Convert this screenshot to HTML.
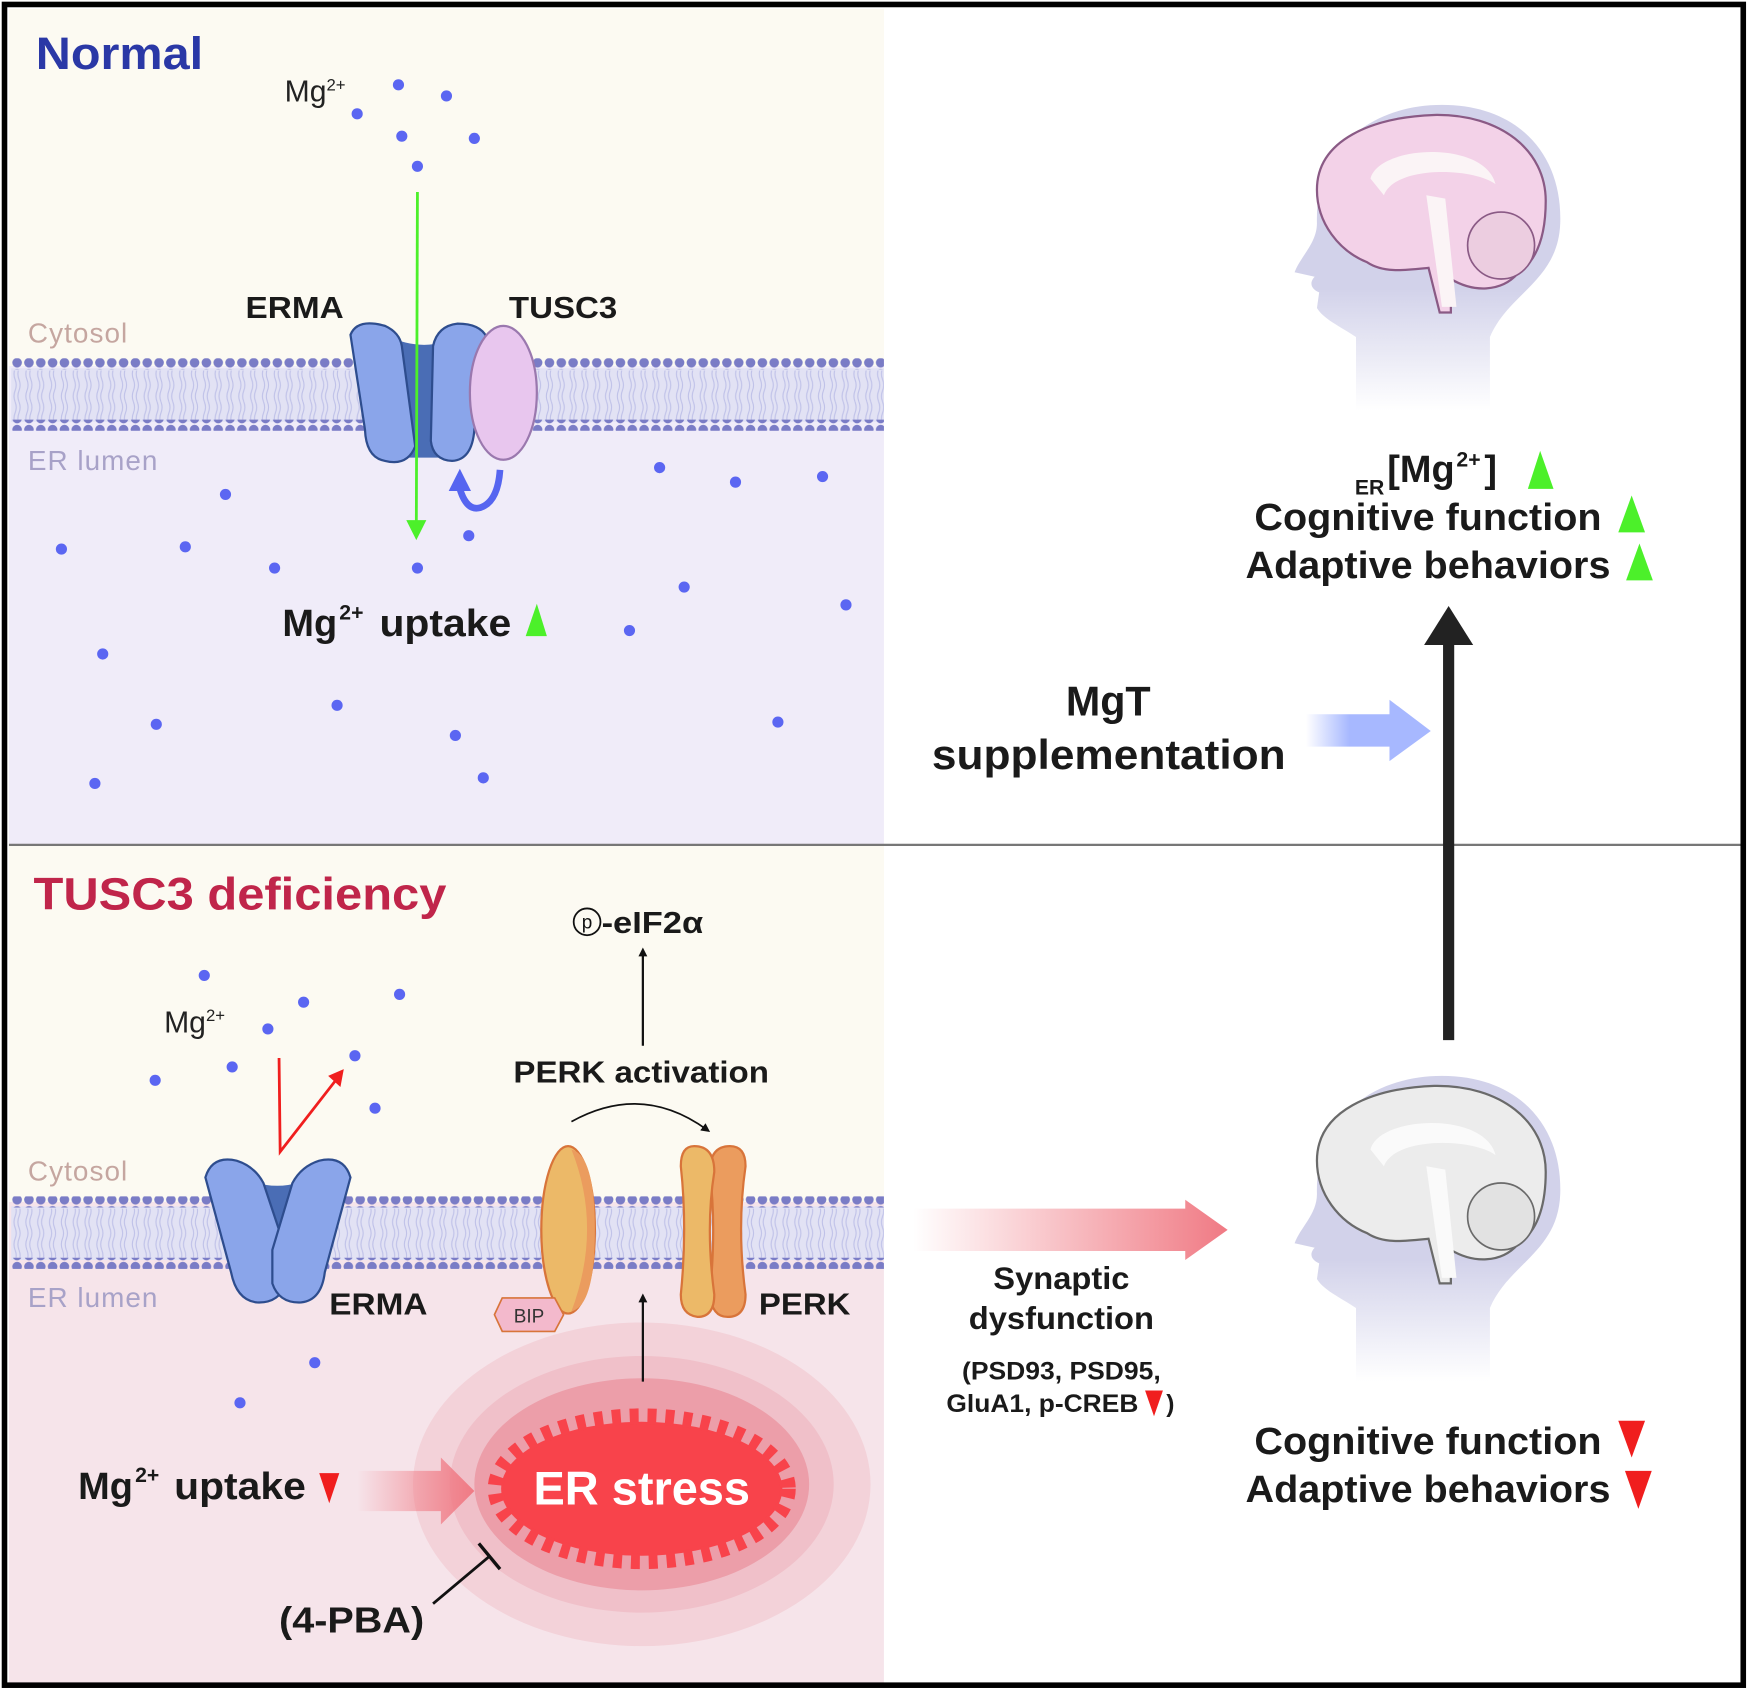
<!DOCTYPE html>
<html><head><meta charset="utf-8"><style>
html,body{margin:0;padding:0;background:#fff;}
svg{display:block;}
text{font-family:"Liberation Sans",Arial,sans-serif;}
</style></head><body>
<svg width="1750" height="1693" viewBox="0 0 1568 1517" xmlns="http://www.w3.org/2000/svg">
<defs>
<pattern id="dots" x="10" y="0" width="10.6" height="10" patternUnits="userSpaceOnUse"><circle cx="5.3" cy="5" r="4.3" fill="#7a7cc6"/></pattern>
<pattern id="tails" x="10" y="0" width="10.6" height="40" patternUnits="userSpaceOnUse"><path d="M3.5,0 q2,5 0,10 q-2,5 0,10 q2,5 0,10 q-2,5 0,10 M7,0 q2,5 0,10 q-2,5 0,10 q2,5 0,10 q-2,5 0,10" stroke="#bfc1e8" stroke-width="1" fill="none"/></pattern>
<linearGradient id="headfade" x1="0" y1="0" x2="0" y2="1"><stop offset="0.6" stop-color="#d2d2ea"/><stop offset="1" stop-color="#d2d2ea" stop-opacity="0"/></linearGradient>
<linearGradient id="bluearr" x1="0" y1="0" x2="1" y2="0"><stop offset="0" stop-color="#a7b8ff" stop-opacity="0"/><stop offset="0.35" stop-color="#a7b8ff"/><stop offset="1" stop-color="#a7b8ff"/></linearGradient>
<linearGradient id="redarr" x1="0" y1="0" x2="1" y2="0"><stop offset="0" stop-color="#f07a84" stop-opacity="0"/><stop offset="1" stop-color="#f07a84"/></linearGradient>
<marker id="ah" markerWidth="8" markerHeight="8" refX="4" refY="4" orient="auto" markerUnits="userSpaceOnUse"><path d="M0,0 L8,4 L0,8 Z" fill="#111"/></marker>
</defs>
<rect width="1568" height="1517" fill="#fff"/>
<rect x="8" y="8" width="784" height="320" fill="#fcfaf2"/>
<rect x="8" y="328" width="784" height="429" fill="#f0ecf9"/>
<rect x="8" y="757" width="784" height="320" fill="#fcfaf2"/>
<rect x="8" y="1077" width="784" height="432" fill="#f6e4ea"/>
<line x1="8" y1="757" x2="1562" y2="757" stroke="#777" stroke-width="2"/>
<rect x="10" y="330" width="782" height="48" fill="#e2e2f4"/>
<rect x="10" y="332" width="782" height="44" fill="url(#tails)"/>
<rect x="10" y="321" width="782" height="10" fill="url(#dots)"/>
<rect x="10" y="376" width="782" height="10" fill="url(#dots)"/>
<rect x="10" y="1081" width="782" height="48" fill="#e2e2f4"/>
<rect x="10" y="1083" width="782" height="44" fill="url(#tails)"/>
<rect x="10" y="1072" width="782" height="10" fill="url(#dots)"/>
<rect x="10" y="1127" width="782" height="10" fill="url(#dots)"/>

<text x="32" y="62" font-size="41" font-weight="bold" fill="#2a38a6" textLength="150" lengthAdjust="spacingAndGlyphs">Normal</text>
<text x="255" y="91" font-size="27" fill="#222">Mg<tspan font-size="15" dy="-10">2+</tspan></text>
<g fill="#5b66f2">
<circle cx="357" cy="76" r="5"/><circle cx="400" cy="86" r="5"/><circle cx="320" cy="102" r="5"/><circle cx="360" cy="122" r="5"/><circle cx="425" cy="124" r="5"/><circle cx="374" cy="149" r="5"/>
<circle cx="202" cy="443" r="5"/><circle cx="55" cy="492" r="5"/><circle cx="166" cy="490" r="5"/><circle cx="246" cy="509" r="5"/><circle cx="374" cy="509" r="5"/><circle cx="420" cy="480" r="5"/>
<circle cx="591" cy="419" r="5"/><circle cx="659" cy="432" r="5"/><circle cx="737" cy="427" r="5"/><circle cx="613" cy="526" r="5"/><circle cx="758" cy="542" r="5"/><circle cx="564" cy="565" r="5"/>
<circle cx="92" cy="586" r="5"/><circle cx="302" cy="632" r="5"/><circle cx="140" cy="649" r="5"/><circle cx="408" cy="659" r="5"/><circle cx="697" cy="647" r="5"/><circle cx="85" cy="702" r="5"/><circle cx="433" cy="697" r="5"/>
</g>
<text x="25" y="307" font-size="25" fill="#c5a6a0" textLength="89">Cytosol</text>
<text x="25" y="421" font-size="25" fill="#a8a2c8" textLength="116">ER lumen</text>
<text x="220" y="285" font-size="27" font-weight="bold" fill="#1a1a1a" textLength="88" lengthAdjust="spacingAndGlyphs">ERMA</text>
<text x="456" y="285" font-size="27" font-weight="bold" fill="#1a1a1a" textLength="97" lengthAdjust="spacingAndGlyphs">TUSC3</text>
<path d="M345,300 Q380,318 415,300 L405,410 L358,410 Z" fill="#4a6db5"/>
<path d="M314,300 Q320,285 345,292 Q358,298 360,310 L372,400 Q365,418 345,413 Q328,410 327,385 Z" fill="#8aa5ea" stroke="#2e4d8e" stroke-width="2"/>
<path d="M388,310 Q392,292 410,290 Q430,290 436,302 L425,385 Q423,412 405,413 Q388,412 386,395 Z" fill="#8aa5ea" stroke="#2e4d8e" stroke-width="2"/>
<ellipse cx="451" cy="352" rx="30" ry="60" fill="#e8c6ee" stroke="#9a78ae" stroke-width="2"/>
<line x1="374" y1="172" x2="373" y2="470" stroke="#4cf02a" stroke-width="2.5"/>
<path d="M364,466 L382,466 L373,484 Z" fill="#4cf02a"/>
<path d="M448,421 Q446,450 430,455 Q418,458 412,438" stroke="#5665f0" stroke-width="6" fill="none"/>
<path d="M402,440 L412,420 L422,440 Z" fill="#5665f0"/>
<text x="253" y="570" font-size="34" font-weight="bold" fill="#1a1a1a">Mg</text>
<text x="304" y="555" font-size="19" font-weight="bold" fill="#1a1a1a">2+</text>
<text x="340" y="570" font-size="34" font-weight="bold" fill="#1a1a1a" textLength="118" lengthAdjust="spacingAndGlyphs">uptake</text>
<path d="M471,570 L481,541 L490,570 Z" fill="#4cf02a"/>

<text x="30" y="815" font-size="41" font-weight="bold" fill="#c0254a" textLength="370" lengthAdjust="spacingAndGlyphs">TUSC3 deficiency</text>
<text x="147" y="925" font-size="27" fill="#222">Mg<tspan font-size="15" dy="-10">2+</tspan></text>
<g fill="#5b66f2">
<circle cx="183" cy="874" r="5"/><circle cx="272" cy="898" r="5"/><circle cx="358" cy="891" r="5"/><circle cx="240" cy="922" r="5"/><circle cx="208" cy="956" r="5"/><circle cx="139" cy="968" r="5"/><circle cx="318" cy="946" r="5"/><circle cx="336" cy="993" r="5"/>
<circle cx="282" cy="1221" r="5"/><circle cx="215" cy="1257" r="5"/>
</g>
<path d="M250,948 L251,1032 L300,969" stroke="#f01e1e" stroke-width="2.5" fill="none"/>
<path d="M294,964 L308,958 L305,974 Z" fill="#f01e1e"/>
<text x="25" y="1058" font-size="25" fill="#c5a6a0" textLength="89">Cytosol</text>
<text x="25" y="1171" font-size="25" fill="#a8a2c8" textLength="116">ER lumen</text>
<path d="M210,1050 Q248,1075 288,1050 L250,1160 Z" fill="#4a6db5"/>
<path d="M184,1055 Q190,1035 212,1040 Q228,1045 236,1060 L256,1120 L256,1150 Q250,1168 230,1167 Q212,1165 207,1140 Z" fill="#8aa5ea" stroke="#2e4d8e" stroke-width="2"/>
<path d="M314,1055 Q308,1035 286,1040 Q270,1045 262,1060 L244,1120 L244,1150 Q250,1168 270,1167 Q288,1165 291,1140 Z" fill="#8aa5ea" stroke="#2e4d8e" stroke-width="2"/>
<text x="295" y="1178" font-size="27" font-weight="bold" fill="#1a1a1a" textLength="88" lengthAdjust="spacingAndGlyphs">ERMA</text>
<ellipse cx="509" cy="1102" rx="24" ry="75" fill="#ecb968" stroke="#d8743a" stroke-width="2"/>
<path d="M512,1030 Q540,1100 512,1175 Q533,1170 533,1102 Q533,1035 512,1030 Z" fill="#eb9c5e"/>
<path d="M450,1163 L497,1163 L505,1178 L497,1193 L450,1193 L443,1178 Z" fill="#f3b9cc" stroke="#d8743a" stroke-width="1.5"/>
<text x="474" y="1185" font-size="17" fill="#333" text-anchor="middle">BIP</text>
<path d="M654,1027 Q668,1027 668,1045 Q660,1100 668,1160 Q668,1180 652,1180 Q638,1180 636,1160 Q642,1100 636,1050 Q636,1027 654,1027 Z" fill="#eb9c5e" stroke="#d8743a" stroke-width="2"/>
<path d="M622,1027 Q640,1027 640,1050 Q632,1100 640,1160 Q640,1180 625,1180 Q610,1178 610,1160 Q616,1100 610,1045 Q610,1027 622,1027 Z" fill="#ecb968" stroke="#d8743a" stroke-width="2"/>
<text x="680" y="1178" font-size="27" font-weight="bold" fill="#1a1a1a" textLength="82" lengthAdjust="spacingAndGlyphs">PERK</text>
<text x="460" y="970" font-size="27" font-weight="bold" fill="#1a1a1a" textLength="229" lengthAdjust="spacingAndGlyphs">PERK activation</text>
<path d="M512,1005 Q575,970 633,1012" stroke="#111" stroke-width="1.5" fill="none" marker-end="url(#ah)"/>
<line x1="576" y1="937" x2="576" y2="853" stroke="#111" stroke-width="2" marker-end="url(#ah)"/>
<circle cx="526" cy="826" r="12" fill="none" stroke="#111" stroke-width="1.6"/>
<text x="526" y="832" font-size="17" text-anchor="middle" fill="#111">p</text>
<text x="539" y="836" font-size="27" font-weight="bold" fill="#1a1a1a" textLength="91" lengthAdjust="spacingAndGlyphs">-eIF2α</text>
<ellipse cx="575" cy="1330" rx="205" ry="145" fill="#f3d2d9"/>
<ellipse cx="575" cy="1330" rx="172" ry="115" fill="#f0c0c9"/>
<ellipse cx="575" cy="1330" rx="150" ry="95" fill="#ec9ea9"/>
<ellipse cx="575" cy="1334" rx="126" ry="60" fill="#f8434b"/>
<ellipse cx="575" cy="1334" rx="131" ry="65" fill="none" stroke="#f8434b" stroke-width="14" stroke-dasharray="8 8"/>
<text x="478" y="1348" font-size="42" font-weight="bold" fill="#fff" textLength="194" lengthAdjust="spacingAndGlyphs">ER stress</text>
<line x1="576" y1="1238" x2="576" y2="1163" stroke="#111" stroke-width="2" marker-end="url(#ah)"/>
<text x="70" y="1343" font-size="34" font-weight="bold" fill="#1a1a1a">Mg</text>
<text x="121" y="1328" font-size="19" font-weight="bold" fill="#1a1a1a">2+</text>
<text x="156" y="1343" font-size="34" font-weight="bold" fill="#1a1a1a" textLength="118" lengthAdjust="spacingAndGlyphs">uptake</text>
<path d="M286,1320 L304,1320 L295,1347 Z" fill="#f01e1e"/>
<path d="M320,1318 L395,1318 L395,1306 L425,1336 L395,1366 L395,1354 L320,1354 Z" fill="url(#redarr)"/>
<line x1="388" y1="1437" x2="438" y2="1395" stroke="#111" stroke-width="2.5"/>
<line x1="429" y1="1383" x2="448" y2="1406" stroke="#111" stroke-width="3"/>
<text x="250" y="1463" font-size="32" font-weight="bold" fill="#1a1a1a" textLength="130" lengthAdjust="spacingAndGlyphs">(4-PBA)</text>

<path d="M1215,368 L1215,302 C1200,292 1186,286 1180,276 L1182,262 C1173,258 1174,252 1178,248 L1160,244 C1165,230 1180,218 1180,200 C1178,132 1230,94 1292,94 C1362,94 1400,140 1398,200 C1396,252 1352,262 1335,302 L1335,368 Z" fill="url(#headfade)"/>
<path d="M1180,170 C1180,125 1230,105 1285,103 C1345,102 1385,135 1385,180 C1385,215 1375,235 1360,245 C1345,262 1320,262 1300,250 L1300,280 L1290,280 L1280,240 C1260,242 1240,245 1225,235 C1200,225 1180,200 1180,170 Z" fill="#f3d2e8" stroke="#8a5a85" stroke-width="2"/>
<path d="M1228,160 C1235,130 1330,125 1340,165 C1320,150 1250,148 1240,175 Z" fill="#fbf4f6"/>
<path d="M1278,175 L1295,178 L1305,275 L1292,275 Z" fill="#fbf4f6"/>
<circle cx="1345" cy="220" r="30" fill="#eccde0" stroke="#8a5a85" stroke-width="1.5"/>
<path d="M1215,1238 L1215,1172 C1200,1162 1186,1156 1180,1146 L1182,1132 C1173,1128 1174,1122 1178,1118 L1160,1114 C1165,1100 1180,1088 1180,1070 C1178,1002 1230,964 1292,964 C1362,964 1400,1010 1398,1070 C1396,1122 1352,1132 1335,1172 L1335,1238 Z" fill="url(#headfade)"/>
<path d="M1180,1040 C1180,995 1230,975 1285,973 C1345,972 1385,1005 1385,1050 C1385,1085 1375,1105 1360,1115 C1345,1132 1320,1132 1300,1120 L1300,1150 L1290,1150 L1280,1110 C1260,1112 1240,1115 1225,1105 C1200,1095 1180,1070 1180,1040 Z" fill="#ececec" stroke="#6a6a6a" stroke-width="2"/>
<path d="M1228,1030 C1235,1000 1330,995 1340,1035 C1320,1020 1250,1018 1240,1045 Z" fill="#fafafa"/>
<path d="M1278,1045 L1295,1048 L1305,1145 L1292,1145 Z" fill="#fafafa"/>
<circle cx="1345" cy="1090" r="30" fill="#e2e2e2" stroke="#6a6a6a" stroke-width="1.5"/>

<text x="1214" y="443" font-size="19" font-weight="bold" fill="#1a1a1a">ER</text>
<text x="1243" y="432" font-size="34" font-weight="bold" fill="#1a1a1a">[Mg</text>
<text x="1305" y="418" font-size="19" font-weight="bold" fill="#1a1a1a">2+</text>
<text x="1330" y="432" font-size="34" font-weight="bold" fill="#1a1a1a">]</text>
<path d="M1369,438 L1380,404 L1392,438 Z" fill="#4cf02a"/>
<text x="1124" y="475" font-size="34" font-weight="bold" fill="#1a1a1a" textLength="311" lengthAdjust="spacingAndGlyphs">Cognitive function</text>
<path d="M1450,477 L1462,444 L1474,477 Z" fill="#4cf02a"/>
<text x="1116" y="518" font-size="34" font-weight="bold" fill="#1a1a1a" textLength="327" lengthAdjust="spacingAndGlyphs">Adaptive behaviors</text>
<path d="M1457,520 L1469,487 L1481,520 Z" fill="#4cf02a"/>
<rect x="1293" y="575" width="10" height="357" fill="#222"/>
<path d="M1276,578 L1298,543 L1320,578 Z" fill="#222"/>
<text x="993" y="641" font-size="37" font-weight="bold" fill="#1a1a1a" text-anchor="middle">MgT</text>
<text x="835" y="689" font-size="37" font-weight="bold" fill="#1a1a1a" textLength="317" lengthAdjust="spacingAndGlyphs">supplementation</text>
<path d="M1170,640 L1245,640 L1245,627 L1282,655 L1245,682 L1245,669 L1170,669 Z" fill="url(#bluearr)"/>
<path d="M818,1083 L1062,1083 L1062,1075 L1100,1102 L1062,1129 L1062,1121 L818,1121 Z" fill="url(#redarr)"/>
<text x="890" y="1155" font-size="28" font-weight="bold" fill="#1a1a1a" textLength="122" lengthAdjust="spacingAndGlyphs">Synaptic</text>
<text x="868" y="1191" font-size="28" font-weight="bold" fill="#1a1a1a" textLength="166" lengthAdjust="spacingAndGlyphs">dysfunction</text>
<text x="862" y="1236" font-size="22" font-weight="bold" fill="#1a1a1a" textLength="178" lengthAdjust="spacingAndGlyphs">(PSD93, PSD95,</text>
<text x="848" y="1265" font-size="22" font-weight="bold" fill="#1a1a1a" textLength="172" lengthAdjust="spacingAndGlyphs">GluA1, p-CREB</text>
<path d="M1026,1246 L1042,1246 L1034,1269 Z" fill="#f01e1e"/>
<text x="1045" y="1265" font-size="22" font-weight="bold" fill="#1a1a1a">)</text>
<text x="1124" y="1303" font-size="34" font-weight="bold" fill="#1a1a1a" textLength="311" lengthAdjust="spacingAndGlyphs">Cognitive function</text>
<path d="M1450,1273 L1474,1273 L1462,1306 Z" fill="#f01e1e"/>
<text x="1116" y="1346" font-size="34" font-weight="bold" fill="#1a1a1a" textLength="327" lengthAdjust="spacingAndGlyphs">Adaptive behaviors</text>
<path d="M1456,1318 L1480,1318 L1468,1352 Z" fill="#f01e1e"/>

<rect x="4" y="4" width="1558" height="1506" fill="none" stroke="#000" stroke-width="5"/>
</svg>
</body></html>
